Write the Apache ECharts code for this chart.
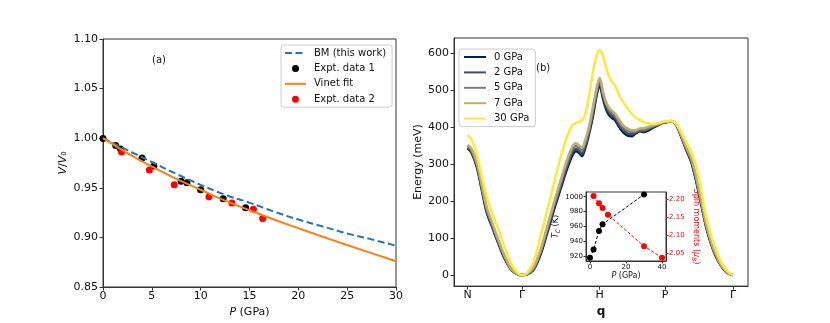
<!DOCTYPE html>
<html>
<head>
<meta charset="utf-8">
<script src="https://cdn.jsdelivr.net/npm/echarts@6/dist/echarts.min.js"></script>
<style>
html, body { margin: 0; padding: 0; background: #fff; }
#chart { width: 830px; height: 323px; }
</style>
</head>
<body>
<div id="chart"></div>
<script>
// panel (a): V/V0 vs pressure
var fitP = [0, 2.5, 5, 7.5, 10, 12.5, 15, 17.5, 20, 22.5, 25, 27.5, 30];
var bmV = [1.0, 0.988, 0.976, 0.964, 0.953, 0.943, 0.935, 0.926, 0.918, 0.911, 0.904, 0.898, 0.8916];
var vinetV = [1.0, 0.985, 0.9715, 0.959, 0.948, 0.937, 0.9275, 0.918, 0.9093, 0.9007, 0.8923, 0.8841, 0.876];
var expt1P = [0, 1.3, 1.8, 4.0, 5.2, 8.0, 8.6, 10.0, 12.3, 14.6];
var expt1V = [0.9997, 0.9926, 0.989, 0.980, 0.972, 0.9567, 0.955, 0.948, 0.939, 0.930];
var expt2P = [1.9, 4.75, 7.3, 10.85, 13.2, 15.4, 16.35];
var expt2V = [0.986, 0.968, 0.953, 0.941, 0.9346, 0.9285, 0.919];

// panel (b): magnon dispersion along N-G-H-P-G
var qTicks = [0, 0.705, 1.711, 2.559, 3.439];
var qLabels = ["N", "\u0393", "H", "P", "\u0393"];
var qPath = [0, 0.052, 0.117, 0.182, 0.247, 0.312, 0.390, 0.481, 0.572, 0.650, 0.705,
  0.767, 0.845, 0.935, 1.026, 1.117, 1.208, 1.286, 1.351, 1.403, 1.442, 1.481, 1.520, 1.572, 1.624, 1.676, 1.711,
  1.754, 1.793, 1.832, 1.871, 1.910, 1.949, 1.988, 2.027, 2.079, 2.131, 2.170, 2.235, 2.287, 2.339, 2.404, 2.469, 2.520, 2.559,
  2.638, 2.703, 2.768, 2.833, 2.898, 2.963, 3.028, 3.093, 3.158, 3.223, 3.288, 3.353, 3.405, 3.439];
var e0 = [342, 329, 292, 230, 168, 132, 89, 43, 12, 2, 0,
  2, 12, 50, 110, 175, 235, 285, 320, 334, 330, 321, 340, 380, 430, 490, 512,
  476, 448, 432, 424, 418, 405, 392, 383, 376, 375, 381, 388, 386, 390, 398, 405, 410, 412,
  415, 405, 373, 338, 305, 252, 190, 128, 82, 47, 24, 8, 2, 0];
var e2 = [345, 332, 296, 235, 173, 136, 92, 46, 13, 2, 0,
  2, 14, 54, 116, 181, 242, 293, 328, 341, 336, 328, 347, 386, 438, 496, 520,
  483, 455, 439, 430, 424, 411, 398, 389, 382, 380, 384, 390, 389, 393, 400, 406, 410, 412,
  415, 406, 375, 340, 308, 256, 193, 131, 84, 49, 25, 8, 2, 0];
var e5 = [348, 336, 300, 240, 178, 140, 96, 48, 14, 2, 0,
  3, 16, 58, 122, 188, 250, 302, 337, 349, 343, 337, 355, 393, 447, 503, 527,
  490, 462, 446, 437, 430, 418, 405, 396, 389, 386, 387, 393, 393, 396, 402, 407, 411, 413,
  416, 406, 377, 343, 312, 260, 197, 134, 87, 51, 26, 9, 2, 0];
var e7 = [352, 340, 305, 245, 183, 144, 99, 51, 15, 3, 0,
  3, 18, 62, 128, 195, 258, 310, 345, 356, 350, 344, 362, 400, 455, 510, 532,
  495, 468, 452, 443, 436, 424, 412, 402, 395, 391, 391, 396, 397, 400, 404, 408, 412, 414,
  416, 407, 379, 346, 316, 265, 202, 137, 89, 53, 27, 10, 2, 0];
var e30 = [378, 365, 325, 266, 210, 169, 128, 74, 28, 5, 0,
  5, 30, 97, 170, 245, 320, 372, 403, 411, 414, 417, 432, 480, 550, 596, 607,
  592, 562, 537, 521, 512, 492, 476, 463, 448, 434, 426, 418, 412, 409, 408, 410, 413, 415,
  416, 408, 386, 358, 331, 294, 226, 155, 104, 66, 34, 14, 4, 0];

// inset: Tc and spin moment vs pressure
var tcP = [0, 2, 5, 7, 30];
var tcK = [918, 929, 954, 963, 1003];
var spinP = [2, 5, 7, 10, 30, 40];
var spinM = [2.21, 2.19, 2.177, 2.158, 2.07, 2.038];

function zip(a, b) {
  var out = [];
  for (var i = 0; i < a.length; i++) out.push([a[i], b[i]]);
  return out;
}

var FONT = "DejaVu Sans";
var INK = "#111";
var SPINE = "#333";
var FS = 11;

function frameAxis(extra) {
  var base = {
    axisLine: { show: true, onZero: false, lineStyle: { color: SPINE, width: 1 } },
    axisTick: { show: true, length: 3.5, lineStyle: { color: SPINE, width: 1 } },
    axisLabel: { color: INK, fontFamily: FONT, fontSize: FS },
    splitLine: { show: false },
    nameTextStyle: { color: INK, fontFamily: FONT, fontSize: FS }
  };
  return Object.assign(base, extra);
}

var curveNames = ["0 GPa", "2 GPa", "5 GPa", "7 GPa", "30 GPa"];
var curveColors = ["#00224e", "#414d6b", "#7c7b78", "#bcaf6f", "#fee838"];
var curveData = [e0, e2, e5, e7, e30];

var chart = echarts.init(document.getElementById("chart"));

var series = [
  {
    name: "BM (this work)", type: "line", xAxisIndex: 0, yAxisIndex: 0,
    data: zip(fitP, bmV), smooth: 0.5, symbol: "none",
    lineStyle: { color: "#1f77b4", width: 2, type: [7, 3.5] },
    itemStyle: { color: "#1f77b4" }
  },
  {
    name: "Expt. data 1", type: "scatter", xAxisIndex: 0, yAxisIndex: 0,
    data: zip(expt1P, expt1V), symbolSize: 7, itemStyle: { color: "#000", opacity: 1 }
  },
  {
    name: "Vinet fit", type: "line", xAxisIndex: 0, yAxisIndex: 0,
    data: zip(fitP, vinetV), smooth: 0.5, symbol: "none",
    lineStyle: { color: "#ff7f0e", width: 2 }, itemStyle: { color: "#ff7f0e" }
  },
  {
    name: "Expt. data 2", type: "scatter", xAxisIndex: 0, yAxisIndex: 0,
    data: zip(expt2P, expt2V), symbolSize: 7, itemStyle: { color: "#ff0000", opacity: 1 }
  }
];

for (var k = 0; k < curveNames.length; k++) {
  series.push({
    name: curveNames[k], type: "line", xAxisIndex: 1, yAxisIndex: 1,
    data: zip(qPath, curveData[k]), smooth: 0.35, symbol: "none",
    lineStyle: { color: curveColors[k], width: 2.5 },
    itemStyle: { color: curveColors[k] }
  });
}

series.push({
  type: "line", xAxisIndex: 2, yAxisIndex: 2, data: zip(tcP, tcK), z: 6,
  symbol: "circle", symbolSize: 6,
  lineStyle: { color: "#000", width: 1, type: [3, 2] }, itemStyle: { color: "#000" }
});
series.push({
  type: "line", xAxisIndex: 2, yAxisIndex: 3, data: zip(spinP, spinM), z: 6,
  symbol: "circle", symbolSize: 6,
  lineStyle: { color: "#ff0000", width: 1, type: [3, 2] }, itemStyle: { color: "#ff0000" }
});

var legendCommon = {
  orient: "vertical",
  backgroundColor: "rgba(255,255,255,0.8)",
  borderColor: "#cccccc", borderWidth: 1, borderRadius: 3,
  itemGap: 5.4,
  textStyle: { color: INK, fontFamily: FONT, fontSize: 10, padding: [0, 0, 0, 3] }
};

function lineEntry(name) {
  return { name: name, itemStyle: { opacity: 0 } };
}

var option = {
  backgroundColor: "#fff",
  animation: false,
  grid: [
    { left: 103, top: 39, width: 293, height: 248, show: true, borderColor: SPINE, borderWidth: 1 },
    { left: 454, top: 38, width: 294, height: 249, show: true, borderColor: SPINE, borderWidth: 1 },
    { left: 586, top: 192, width: 80, height: 69, show: true, borderColor: SPINE, borderWidth: 1, backgroundColor: "#fff" }
  ],
  legend: [
    Object.assign({}, legendCommon, {
      left: 281, top: 45, padding: [3, 6, 3, 3],
      itemWidth: 21, itemHeight: 7,
      data: [lineEntry("BM (this work)"), "Expt. data 1", lineEntry("Vinet fit"), "Expt. data 2"]
    }),
    Object.assign({}, legendCommon, {
      left: 459, top: 49, padding: [3, 6, 3, 4],
      itemWidth: 22, itemHeight: 7,
      data: curveNames.map(lineEntry)
    })
  ],
  xAxis: [
    frameAxis({
      gridIndex: 0, type: "value", min: 0, max: 30, interval: 5,
      name: "{i|P} (GPa)", nameLocation: "middle", nameGap: 17,
      nameTextStyle: { color: INK, fontFamily: FONT, fontSize: FS,
        rich: { i: { fontStyle: "italic", fontFamily: FONT, fontSize: FS, color: INK } } },
      axisLabel: { color: INK, fontFamily: FONT, fontSize: FS, margin: 4 }
    }),
    frameAxis({
      gridIndex: 1, type: "value", min: -0.178, max: 3.634,
      name: "q", nameLocation: "middle", nameGap: 17,
      nameTextStyle: { color: INK, fontFamily: FONT, fontSize: 12, fontWeight: "bold" },
      axisTick: { show: true, length: 3.5, customValues: qTicks, lineStyle: { color: SPINE } },
      axisLabel: {
        color: INK, fontFamily: FONT, fontSize: FS, margin: 4, customValues: qTicks,
        formatter: function (v) {
          for (var i = 0; i < qTicks.length; i++) if (Math.abs(v - qTicks[i]) < 1e-6) return qLabels[i];
          return "";
        }
      }
    }),
    frameAxis({
      gridIndex: 2, type: "value", min: -2.2, max: 42.2,
      name: "{i|P} (GPa)", nameLocation: "middle", nameGap: 11,
      nameTextStyle: { color: INK, fontFamily: FONT, fontSize: 8,
        rich: { i: { fontStyle: "italic", fontFamily: FONT, fontSize: 8, color: INK } } },
      axisTick: { show: true, length: 2.5, customValues: [0, 20, 40], lineStyle: { color: SPINE } },
      axisLabel: { color: INK, fontFamily: FONT, fontSize: 7, margin: 3, customValues: [0, 20, 40] }
    })
  ],
  yAxis: [
    frameAxis({
      gridIndex: 0, type: "value", min: 0.85, max: 1.10, interval: 0.05,
      name: "{i|V}/{i|V}\u2080", nameLocation: "middle", nameGap: 34,
      nameTextStyle: { color: INK, fontFamily: FONT, fontSize: FS,
        rich: { i: { fontStyle: "italic", fontFamily: FONT, fontSize: FS, color: INK } } },
      axisLabel: { color: INK, fontFamily: FONT, fontSize: FS, margin: 5,
        formatter: function (v) { return v.toFixed(2); } }
    }),
    frameAxis({
      gridIndex: 1, type: "value", min: -30, max: 640,
      name: "Energy (meV)", nameLocation: "middle", nameGap: 28,
      axisTick: { show: true, length: 3.5, customValues: [0, 100, 200, 300, 400, 500, 600], lineStyle: { color: SPINE } },
      axisLabel: { color: INK, fontFamily: FONT, fontSize: FS, margin: 5, customValues: [0, 100, 200, 300, 400, 500, 600] }
    }),
    frameAxis({
      gridIndex: 2, type: "value", min: 913.7, max: 1006.3,
      name: "{i|T}{s|C} (K)", nameLocation: "middle", nameGap: 22,
      nameTextStyle: { color: INK, fontFamily: FONT, fontSize: 8,
        rich: { i: { fontStyle: "italic", fontFamily: FONT, fontSize: 8, color: INK },
                s: { fontStyle: "italic", fontFamily: FONT, fontSize: 6, color: INK, padding: [4, 0, 0, 0] } } },
      axisTick: { show: true, length: 2.5, customValues: [920, 940, 960, 980, 1000], lineStyle: { color: SPINE } },
      axisLabel: { color: INK, fontFamily: FONT, fontSize: 7, margin: 3, customValues: [920, 940, 960, 980, 1000],
        formatter: function (v) { return String(Math.round(v)); } }
    }),
    frameAxis({
      gridIndex: 2, type: "value", position: "right", min: 2.0286, max: 2.2214,
      name: "Spin moments ({i|\u03bc}{s|B})", nameLocation: "middle", nameGap: 25, nameRotate: -90,
      nameTextStyle: { color: "#ff0000", fontFamily: FONT, fontSize: 8,
        rich: { i: { fontStyle: "italic", fontFamily: FONT, fontSize: 8, color: "#ff0000" },
                s: { fontStyle: "italic", fontFamily: FONT, fontSize: 6, color: "#ff0000", padding: [4, 0, 0, 0] } } },
      axisTick: { show: true, length: 2.5, customValues: [2.05, 2.10, 2.15, 2.20], lineStyle: { color: "#ff0000" } },
      axisLabel: { color: "#ff0000", fontFamily: FONT, fontSize: 7, margin: 3, customValues: [2.05, 2.10, 2.15, 2.20],
        formatter: function (v) { return v.toFixed(2); } }
    })
  ],
  graphic: [
    { type: "text", left: 152, top: 55, style: { text: "(a)", fill: INK, font: "10px 'DejaVu Sans'" } },
    { type: "text", left: 536, top: 63, style: { text: "(b)", fill: INK, font: "10px 'DejaVu Sans'" } }
  ],
  series: series
};

chart.setOption(option);
</script>
</body>
</html>
